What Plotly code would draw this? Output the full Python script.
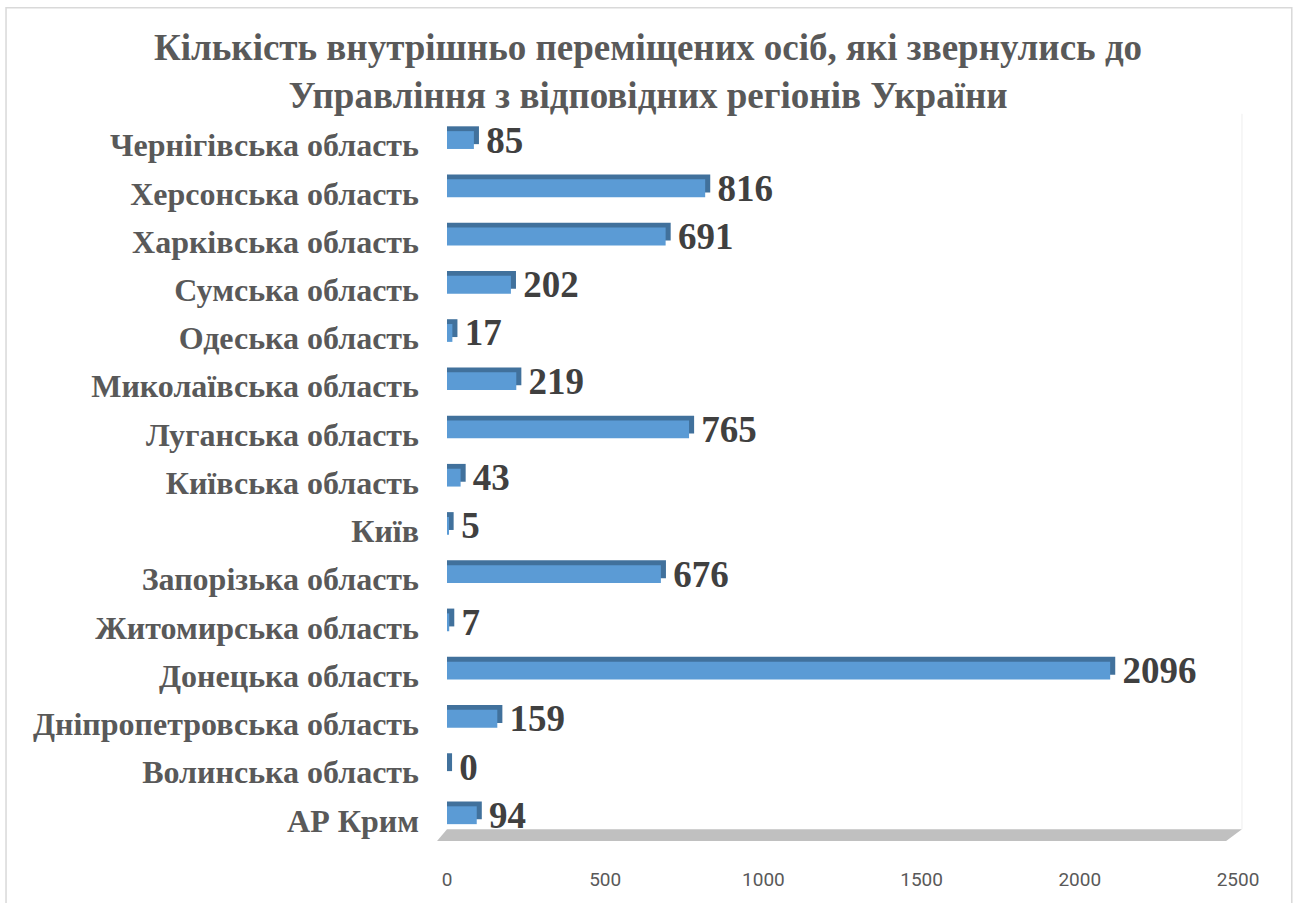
import plotly.graph_objects as go

BAR_COLOR = '#5B9BD5'
SIDE_COLOR = '#41719C'

regions = [
    'АР Крим',
    'Волинська область',
    'Дніпропетровська область',
    'Донецька область',
    'Житомирська область',
    'Запорізька область',
    'Київ',
    'Київська область',
    'Луганська область',
    'Миколаївська область',
    'Одеська область',
    'Сумська область',
    'Харківська область',
    'Херсонська область',
    'Чернігівська область',
]
persons = [94, 0, 159, 2096, 7, 676, 5, 43, 765, 219, 17, 202, 691, 816, 85]
x_ticks = [0, 500, 1000, 1500, 2000, 2500]

# depth of the fake 3D side, in data units
depth = 16

fig = go.Figure()

# darker block behind = top and end faces
fig.add_trace(go.Bar(
    y=regions,
    x=[v + depth for v in persons],
    orientation='h',
    width=0.37,
    offset=0.02,
    marker=dict(color=SIDE_COLOR, line=dict(width=0)),
    hoverinfo='skip',
))

# front face
fig.add_trace(go.Bar(
    y=regions,
    x=persons,
    orientation='h',
    width=0.37,
    offset=-0.08,
    marker=dict(color=BAR_COLOR, line=dict(width=0)),
    text=[str(v) for v in persons],
    texttemplate='\u00a0%{text}',
    textposition='outside',
    constraintext='none',
    cliponaxis=False,
    textfont=dict(family='Liberation Serif', size=37, color='#404040', weight='bold'),
))

fig.update_layout(
    width=1296,
    height=903,
    barmode='overlay',
    showlegend=False,
    plot_bgcolor='white',
    paper_bgcolor='white',
    margin=dict(l=447, r=58, t=121, b=50),
    title=dict(
        text='Кількість внутрішньо переміщених осіб, які звернулись до<br>Управління з відповідних регіонів України',
        x=0.5,
        xanchor='center',
        y=0.934,
        yanchor='top',
        font=dict(family='Liberation Serif', size=37, color='#595959', weight='bold'),
    ),
    xaxis=dict(
        range=[0, 2500],
        tickvals=x_ticks,
        showgrid=False,
        zeroline=False,
        showline=False,
        ticklabelstandoff=24,
        tickfont=dict(family='Liberation Sans Narrow, Roboto, sans-serif', size=19, color='#595959'),
    ),
    yaxis=dict(
        type='category',
        range=[-0.45, 14.5],
        showgrid=False,
        showline=False,
        ticklabelstandoff=27,
        tickfont=dict(family='Liberation Serif', size=32, color='#595959', weight='bold'),
    ),
    shapes=[
        # grey floor
        dict(type='path', xref='paper', yref='paper',
             path='M -0.0126 0.0014 L 0 0.0178 L 1.005 0.0178 L 0.985 0.0014 Z',
             fillcolor='#C0C0C0', line=dict(width=0), layer='below'),
        # back wall edge
        dict(type='line', xref='paper', yref='paper',
             x0=1.005, x1=1.005, y0=0.0178, y1=1.01,
             line=dict(color='#EEEEEE', width=1), layer='below'),
        # chart border
        dict(type='rect', xref='paper', yref='paper',
             x0=-0.5575, x1=1.068, y0=-0.1, y1=1.157,
             line=dict(color='#D9D9D9', width=1.5)),
    ],
)

fig.write_html('out.html', config={'displayModeBar': False},
               post_script="document.body.style.margin='0';")
